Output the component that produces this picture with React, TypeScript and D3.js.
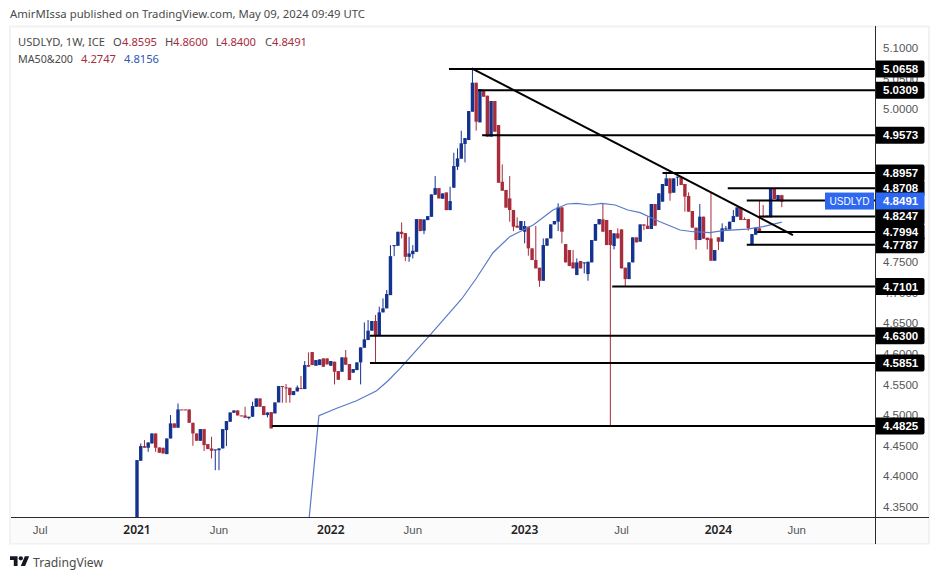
import React from "react";
import * as d3 from "d3";

const opens = [
  4.30,4.4255,4.4495,4.4468,4.4538,4.4702,4.4473,4.4468,4.4364,4.4620,
  4.4866,4.4795,4.5094,4.5094,4.5094,4.4876,4.4702,4.4582,4.4773,4.4528,
  4.4457,4.4440,4.4429,4.4457,4.4757,4.4893,4.5040,4.5078,4.4996,4.4996,
  4.4953,4.4975,4.5138,4.5274,4.5149,4.5002,4.5051,4.5029,4.5209,4.5476,
  4.5454,4.5449,4.5329,4.5389,4.5443,4.5427,4.5819,4.6032,4.5808,4.5819,
  4.5928,4.5928,4.5808,4.5874,4.5721,4.5710,4.5945,4.5836,4.5694,4.5737,
  4.5863,4.6103,4.6228,4.6381,4.6539,4.6293,4.6680,4.6746,4.6962,4.7768,
  4.7768,4.7997,4.7975,4.7588,4.7632,4.7670,4.8204,4.8014,4.8188,4.8242,
  4.8602,4.8711,4.8537,4.8640,4.8351,4.8717,4.9060,4.9191,4.9431,4.9496,
  4.9959,5.0433,4.9785,5.0314,5.0221,4.9551,5.0134,4.9741,4.8815,4.8680,
  4.8543,4.8353,4.8096,4.8026,4.7998,4.8080,4.7726,4.7535,4.7410,4.7197,
  4.7769,4.7889,4.8118,4.8162,4.8396,4.7797,4.7699,4.7497,4.7290,4.7519,
  4.7486,4.7306,4.7497,4.7851,4.8118,4.8200,4.8189,4.8026,4.7764,4.7971,
  4.8036,4.7410,4.7224,4.7497,4.7906,4.7835,4.8118,4.8096,4.8042,4.8451,
  4.8353,4.8489,4.8745,4.8870,4.8636,4.8887,4.8887,4.8778,4.8581,4.8336,
  4.8064,4.7862,4.8244,4.7900,4.7889,4.7524,4.7906,4.7835,4.8036,4.8036,
  4.8156,4.8244,4.8396,4.8205,4.8205,4.7780,4.7949,4.8053,4.8254,4.8260,4.8233,4.8707,4.8516,4.8595,
];
const closes = [
  4.4266,4.4495,4.4468,4.4555,4.4702,4.4468,4.4386,4.4375,4.4620,4.4866,
  4.4795,4.5094,4.5090,4.5090,4.4876,4.4702,4.4582,4.4773,4.4511,4.4446,
  4.4419,4.4440,4.4457,4.4773,4.4904,4.5045,4.5078,4.4996,4.4991,4.4958,
  4.4975,4.5149,4.5274,4.5138,4.5002,4.5045,4.4784,4.5209,4.5476,4.5470,
  4.5438,4.5329,4.5394,4.5454,4.5427,4.5819,4.5792,4.5819,4.5901,4.5912,
  4.5792,4.5830,4.5885,4.5710,4.5579,4.5945,4.5825,4.5574,4.5754,4.5863,
  4.6108,4.6239,4.6381,4.6539,4.6293,4.6680,4.6746,4.6980,4.7599,4.7779,
  4.7997,4.7959,4.7588,4.7643,4.7687,4.8204,4.8008,4.8199,4.8253,4.8608,
  4.8711,4.8542,4.8624,4.8351,4.8499,4.9071,4.9196,4.9442,4.9529,4.9970,
  5.0433,4.9796,5.0324,5.0204,4.9551,5.0134,4.9632,4.8798,4.8668,4.8391,
  4.8353,4.8080,4.8064,4.8173,4.8091,4.7726,4.7535,4.7399,4.7197,4.7780,
  4.7889,4.8118,4.8173,4.8396,4.7998,4.7497,4.7437,4.7399,4.7497,4.7399,
  4.7497,4.7508,4.7862,4.8124,4.8205,4.7998,4.7780,4.7780,4.7971,4.7889,
  4.7399,4.7224,4.7497,4.7906,4.7824,4.8118,4.8096,4.8042,4.8451,4.8096,
  4.8625,4.8778,4.8870,4.8625,4.8870,4.8898,4.8761,4.8571,4.8325,4.8064,
  4.7862,4.8244,4.7884,4.7862,4.7524,4.7699,4.7835,4.8053,4.8053,4.8162,
  4.8254,4.8396,4.8189,4.8194,4.8053,4.7960,4.8064,4.7998,4.8233,4.8233,4.8707,4.8532,4.8598,4.8491,
];
const highs = [
  4.4266,4.4538,4.4593,4.4555,4.4702,4.4702,4.4473,4.4468,4.4620,4.5002,
  4.4866,4.5192,4.5094,4.5094,4.5094,4.4876,4.4702,4.4773,4.4773,4.4528,
  4.4647,4.4440,4.4457,4.4773,4.4904,4.5045,4.5078,4.5078,4.4996,4.5138,
  4.4975,4.5220,4.5274,4.5274,4.5149,4.5045,4.5051,4.5209,4.5476,4.5476,
  4.5509,4.5449,4.5394,4.5487,4.5639,4.5885,4.6026,4.6032,4.5901,4.5912,
  4.5928,4.5928,4.5885,4.5874,4.5721,4.5945,4.6065,4.5836,4.5754,4.5863,
  4.6108,4.6517,4.6555,4.6539,4.6637,4.6773,4.6909,4.7045,4.7779,4.7779,
  4.7997,4.8150,4.7975,4.7915,4.7779,4.8204,4.8204,4.8199,4.8253,4.8608,
  4.8907,4.8711,4.8624,4.8640,4.8733,4.9289,4.9360,4.9649,4.9529,4.9970,
  5.0668,5.0433,5.0324,5.0314,5.0221,5.0134,5.0134,4.9741,4.9098,4.8680,
  4.8908,4.8353,4.8232,4.8173,4.8173,4.8080,4.7726,4.8091,4.7410,4.7889,
  4.7889,4.8118,4.8173,4.8462,4.8396,4.7797,4.7699,4.7699,4.7562,4.7519,
  4.7497,4.7508,4.7862,4.8124,4.8205,4.8462,4.8189,4.8026,4.7971,4.8053,
  4.8036,4.7410,4.7497,4.7906,4.7906,4.8118,4.8118,4.8244,4.8451,4.8451,
  4.8625,4.8778,4.8979,4.8870,4.8870,4.8898,4.8887,4.8778,4.8641,4.8336,
  4.8064,4.8451,4.8244,4.7900,4.8641,4.7699,4.7906,4.8135,4.8091,4.8162,
  4.8353,4.8396,4.8396,4.8233,4.8205,4.7960,4.8064,4.8505,4.8434,4.8260,4.8707,4.8707,4.8598,4.8600,
];
const lows = [
  4.30,4.4255,4.4468,4.4402,4.4538,4.4402,4.4386,4.4375,4.4364,4.4620,
  4.4795,4.4795,4.5090,4.5090,4.4876,4.4500,4.4582,4.4582,4.4413,4.4446,
  4.4293,4.4102,4.4102,4.4457,4.4495,4.4893,4.5040,4.4996,4.4991,4.4958,
  4.4931,4.4975,4.5138,4.5138,4.5002,4.4964,4.4784,4.5029,4.5209,4.5203,
  4.5203,4.5203,4.5329,4.5389,4.5427,4.5427,4.5792,4.5819,4.5808,4.5819,
  4.5792,4.5830,4.5808,4.5503,4.5579,4.5710,4.5825,4.5574,4.5694,4.5737,
  4.5503,4.6103,4.6228,4.6381,4.5847,4.6293,4.6680,4.6746,4.6962,4.7599,
  4.7768,4.7888,4.7518,4.7507,4.7561,4.7670,4.8008,4.7959,4.8188,4.8242,
  4.8602,4.8542,4.8537,4.8351,4.8351,4.8717,4.9006,4.9191,4.9131,4.9496,
  4.9959,4.9649,4.9785,5.0204,4.9551,4.9551,4.9632,4.8798,4.8668,4.8391,
  4.8161,4.8008,4.8064,4.8026,4.7808,4.7606,4.7535,4.7399,4.7099,4.7197,
  4.7769,4.7889,4.8118,4.8009,4.7808,4.7497,4.7437,4.7399,4.7290,4.7399,
  4.7317,4.7197,4.7497,4.7851,4.8118,4.7998,4.7780,4.4825,4.7709,4.7889,
  4.7399,4.7099,4.7224,4.7497,4.7824,4.7835,4.8026,4.8042,4.8042,4.8096,
  4.8353,4.8489,4.8745,4.8505,4.8636,4.8745,4.8761,4.8325,4.8325,4.8064,
  4.7709,4.7862,4.7884,4.7709,4.7524,4.7524,4.7699,4.7835,4.8015,4.8036,
  4.8156,4.8244,4.8189,4.8194,4.8015,4.7780,4.7949,4.7998,4.8233,4.8233,4.8233,4.8532,4.8516,4.8400,
];

const maWeeks = [46,48.8,53.6,58.9,64.3,67.3,70.6,78.6,87.1,91.1,95.5,100,106.3,111.6,115.4,118,121.5,124.7,128.3,131.7,135,140.3,145.7,149.2,153.7,157.2,163.7,168,173];
const maValues = [4.32,4.4992,4.5113,4.5237,4.5400,4.5559,4.5766,4.6310,4.6899,4.7242,4.7655,4.7917,4.8108,4.8353,4.8451,4.8462,4.8435,4.8462,4.8435,4.8353,4.8309,4.8162,4.8026,4.7998,4.7982,4.8015,4.8042,4.8080,4.8156];

const levelValues = [5.0658,5.0309,4.9573,4.8957,4.8708,4.8247,4.7994,4.7787,4.7101,4.6300,4.5851,4.4825];
const levelStartWeeks = [83.7,91.5,92.6,141,158.5,166.9,166.4,163.6,127.5,62.5,62.5,36.2];
const currentPrice = 4.8491;
const currentLevelStartWeek = 163.6;

const trendWeeks = [89.8,176];
const trendValues = [5.0668,4.7944];

const priceTicks = [5.1,5.05,5.0,4.75,4.7,4.65,4.6,4.55,4.5,4.45,4.4,4.35];
const timeTickWeeks = [-26,0,22,52,74,104,130,156,177];
const timeTickLabels = ["Jul","2021","Jun","2022","Jun","2023","Jul","2024","Jun"];

const UP = "#14328f";
const DOWN = "#a72c3c";
const SANS = "'Noto Sans', sans-serif";
const ARIAL = "'Liberation Sans', Arial, sans-serif";

export default function App() {
  const x = d3.scaleLinear().domain([0, 173]).range([137, 781.8]);
  const y = d3.scaleLinear().domain([5.1, 4.35]).range([48, 507]);
  const maLine = d3.line<number>().x((w) => x(w)).y((_, i) => y(maValues[i])).curve(d3.curveLinear);
  const labelW = 48.5;
  return (
    <svg width={939} height={579} style={{ position: "absolute", left: 0, top: 0, background: "#fff" }}>
      <defs>
        <clipPath id="plot"><rect x={11} y={27} width={864} height={490} /></clipPath>
      </defs>
      <text x={10} y={18} fontFamily={SANS} fontSize={11.4} fill="#4a4a4a" textLength={355} lengthAdjust="spacingAndGlyphs">AmirMIssa published on TradingView.com, May 09, 2024 09:49 UTC</text>
      <rect x={10} y={26.5} width={919} height={517} fill="#fff" stroke="#f0f2f6" strokeWidth={2} />
      <rect x={11} y={518} width={917} height={25} fill="#fbfbfc" />

      <g clipPath="url(#plot)">
        {opens.map((o, i) => {
          const c = closes[i];
          const col = c >= o ? UP : DOWN;
          const top = y(Math.max(o, c));
          const bot = y(Math.min(o, c));
          return (
            <g key={i}>
              <line x1={x(i)} x2={x(i)} y1={y(highs[i])} y2={y(lows[i])} stroke={col} strokeWidth={1} />
              <rect x={x(i) - 1.7} y={top} width={3.4} height={Math.max(bot - top, 1)} fill={col} />
            </g>
          );
        })}
        <path d={maLine(maWeeks) ?? ""} fill="none" stroke="#5a79c9" strokeWidth={1.2} />
        {levelValues.map((v, i) => (
          <line key={v} x1={x(levelStartWeeks[i])} x2={875} y1={y(v)} y2={y(v)} stroke="#000" strokeWidth={2} />
        ))}
        <line x1={x(currentLevelStartWeek)} x2={875} y1={y(currentPrice) - 1} y2={y(currentPrice) - 1} stroke="#000" strokeWidth={2} />
        <line x1={x(trendWeeks[0])} x2={x(trendWeeks[1])} y1={y(trendValues[0])} y2={y(trendValues[1])} stroke="#000" strokeWidth={2} />
      </g>

      <line x1={875.5} x2={875.5} y1={26} y2={544} stroke="#2b2b2b" strokeWidth={1} />
      <line x1={11} x2={929} y1={517.5} y2={517.5} stroke="#2b2b2b" strokeWidth={1} />

      {priceTicks.map((t) => (
        <text key={t} x={883} y={y(t) + 4} fontFamily={ARIAL} fontSize={11.5} fill="#555">{t.toFixed(4)}</text>
      ))}
      {levelValues.map((v) => (
        <g key={v}>
          <path d={`M876 ${y(v) - 8.5}H${876 + labelW - 2}a2 2 0 0 1 2 2V${y(v) + 6.5}a2 2 0 0 1 -2 2H876Z`} fill="#000" />
          <text x={883} y={y(v) + 4} fontFamily={ARIAL} fontSize={11.5} fontWeight={700} fill="#fff">{v.toFixed(4)}</text>
        </g>
      ))}
      <rect x={825} y={y(currentPrice) - 9} width={49} height={17} fill="#2e68f0" />
      <text x={849.5} y={y(currentPrice) + 3.5} textAnchor="middle" fontFamily={ARIAL} fontSize={11} fill="#fff" textLength={40} lengthAdjust="spacingAndGlyphs">USDLYD</text>
      <path d={`M876 ${y(currentPrice) - 9}H${876 + labelW}V${y(currentPrice) + 8}H876Z`} fill="#2e68f0" />
      <text x={883} y={y(currentPrice) + 3.5} fontFamily={ARIAL} fontSize={11.5} fontWeight={700} fill="#fff">{currentPrice.toFixed(4)}</text>

      {timeTickWeeks.map((w, i) => {
        const isYear = /^\d/.test(timeTickLabels[i]);
        return (
          <text key={i} x={x(w)} y={534} textAnchor="middle" fontFamily={isYear ? SANS : ARIAL} fontSize={isYear ? 12 : 11.5} fontWeight={isYear ? 600 : 400} fill={isYear ? "#222" : "#555"}>{timeTickLabels[i]}</text>
        );
      })}

      <g fontFamily={SANS} fontSize={11.2}>
        <text x={18} y={46} fill="#4a4a4a" textLength={87} lengthAdjust="spacingAndGlyphs">USDLYD, 1W, ICE</text>
        <text x={113} y={46} fill="#4a4a4a">O</text>
        <text x={122} y={46} fill={DOWN}>4.8595</text>
        <text x={165} y={46} fill="#4a4a4a">H</text>
        <text x={173} y={46} fill={DOWN}>4.8600</text>
        <text x={215.7} y={46} fill="#4a4a4a">L</text>
        <text x={221} y={46} fill={DOWN}>4.8400</text>
        <text x={265} y={46} fill="#4a4a4a">C</text>
        <text x={272} y={46} fill={DOWN}>4.8491</text>
        <text x={18} y={63} fill="#4a4a4a" textLength={55} lengthAdjust="spacingAndGlyphs">MA50&amp;200</text>
        <text x={81} y={63} fill={DOWN}>4.2747</text>
        <text x={124} y={63} fill="#2f55b5">4.8156</text>
      </g>

      <g transform="translate(10,554) scale(0.54)" fill="#131722">
        <path d="M14 22H7V11H0V4h14v18zM28 22h-8l7.5-18h8L28 22z" />
        <circle cx={20} cy={8} r={4} />
      </g>
      <text x={33} y={566.5} fontFamily={SANS} fontSize={13} fill="#4a4a4a" textLength={70} lengthAdjust="spacingAndGlyphs">TradingView</text>
    </svg>
  );
}
